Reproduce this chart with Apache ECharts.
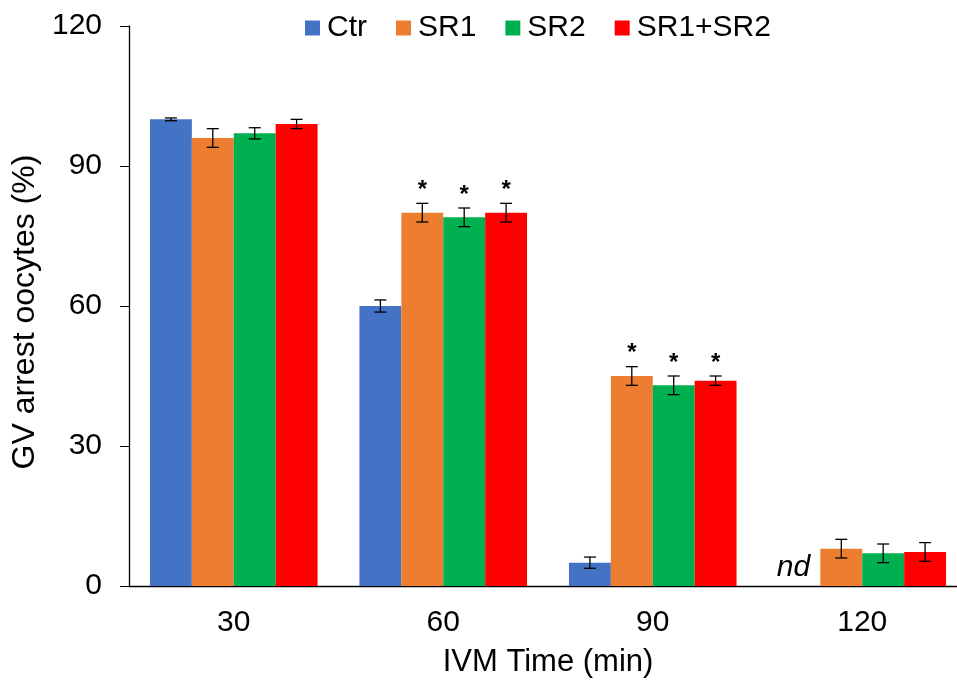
<!DOCTYPE html>
<html><head><meta charset="utf-8">
<script src="https://cdn.jsdelivr.net/npm/echarts@6/dist/echarts.min.js"></script>
<style>html,body{margin:0;padding:0;background:#fff}#c{width:957px;height:681px}</style>
</head><body><div id="c"></div>
<script>
const categories = ['30', '60', '90', '120'];
const seriesNames = ['Ctr', 'SR1', 'SR2', 'SR1+SR2'];
const ctrValues = [100, 60, 5, null];
const ctrErrors = [0.3, 1.3, 1.2, null];
const ctrSig = [0, 0, 0, 0];
const sr1Values = [96, 80, 45, 8];
const sr1Errors = [2, 2, 2, 2];
const sr1Sig = [0, 1, 1, 0];
const sr2Values = [97, 79, 43, 7];
const sr2Errors = [1.2, 2, 2, 2];
const sr2Sig = [0, 1, 1, 0];
const sr12Values = [99, 80, 44, 7.3];
const sr12Errors = [1, 2, 1, 2];
const sr12Sig = [0, 1, 1, 0];
const yTicks = [0, 30, 60, 90, 120];

const FONT = '"Liberation Sans", Arial, sans-serif';
const colors = ['#4472C4', '#ED7D31', '#00B050', '#FF0000'];
const allValues = [ctrValues, sr1Values, sr2Values, sr12Values];
const allErrors = [ctrErrors, sr1Errors, sr2Errors, sr12Errors];
const allSig = [ctrSig, sr1Sig, sr2Sig, sr12Sig];
const nSeries = 4;
const catGapRatio = 0.2;

const chart = echarts.init(document.getElementById('c'));
const series = [];
allValues.forEach((vals, si) => {
  series.push({
    name: seriesNames[si], type: 'bar', data: vals.map(v => v == null ? '-' : v),
    itemStyle: { color: colors[si] }, barGap: '0%', barCategoryGap: '20%'
  });
});
allValues.forEach((vals, si) => {
  series.push({
    name: seriesNames[si] + '_err', type: 'custom', z: 10, silent: true,
    data: vals.map((v, i) => [i, v == null ? 0 : v, allErrors[si][i] == null ? 0 : allErrors[si][i], allSig[si][i], v == null ? 1 : 0]),
    renderItem: function (params, api) {
      const idx = api.value(0), val = api.value(1), err = api.value(2), sig = api.value(3), nd = api.value(4);
      const band = api.size([1, 0])[0];
      const bw = band * (1 - catGapRatio) / nSeries;
      const base = api.coord([idx, val]);
      const x = base[0] + (si - (nSeries - 1) / 2) * bw;
      const children = [];
      if (nd) {
        const p0 = api.coord([idx, 0]);
        children.push({ type: 'text', style: { x: x - 6, y: p0[1] - 18, text: 'nd', font: 'italic 30px ' + FONT, fill: '#000', align: 'center', verticalAlign: 'middle' } });
        return { type: 'group', children };
      }
      const top = api.coord([idx, val + err])[1];
      const bot = api.coord([idx, val - err])[1];
      const cap = 6;
      const ls = { stroke: '#000', lineWidth: 1.3 };
      children.push({ type: 'line', shape: { x1: x, y1: top, x2: x, y2: bot }, style: ls });
      children.push({ type: 'line', shape: { x1: x - cap, y1: top, x2: x + cap, y2: top }, style: ls });
      children.push({ type: 'line', shape: { x1: x - cap, y1: bot, x2: x + cap, y2: bot }, style: ls });
      if (sig) {
        children.push({ type: 'text', style: { x: x, y: top - 13, text: '*', font: 'bold 24px ' + FONT, fill: '#000', align: 'center', verticalAlign: 'middle' } });
      }
      return { type: 'group', children };
    }
  });
});

chart.setOption({
  animation: false,
  backgroundColor: '#fff',
  textStyle: { fontFamily: FONT },
  legend: {
    data: seriesNames, left: 300, top: 8, itemWidth: 15, itemHeight: 15, itemGap: 29,
    icon: 'rect', textStyle: { fontSize: 30, color: '#000', fontFamily: FONT, padding: [0, 0, 0, 2] }
  },
  grid: { left: 129, right: -10, top: 26, bottom: 95, outerBoundsMode: 'none', containLabel: false },
  xAxis: {
    type: 'category', data: categories,
    name: 'IVM Time (min)', nameLocation: 'middle', nameGap: 61,
    nameTextStyle: { fontSize: 31, color: '#000' },
    axisLine: { lineStyle: { color: '#000', width: 1.3 } },
    axisTick: { show: false },
    axisLabel: { fontSize: 30, color: '#000', margin: 22 }
  },
  yAxis: {
    type: 'value', min: yTicks[0], max: yTicks[yTicks.length - 1], interval: 30,
    name: 'GV arrest oocytes (%)', nameLocation: 'middle', nameGap: 85,
    nameTextStyle: { fontSize: 32, color: '#000', padding: [0, 12, 0, 0] },
    axisLine: { show: true, lineStyle: { color: '#000', width: 1.3 } },
    axisTick: { show: true, length: 9, lineStyle: { color: '#000' } },
    splitLine: { show: false },
    axisLabel: { fontSize: 30, color: '#000', margin: 27 }
  },
  series
});
</script></body></html>
